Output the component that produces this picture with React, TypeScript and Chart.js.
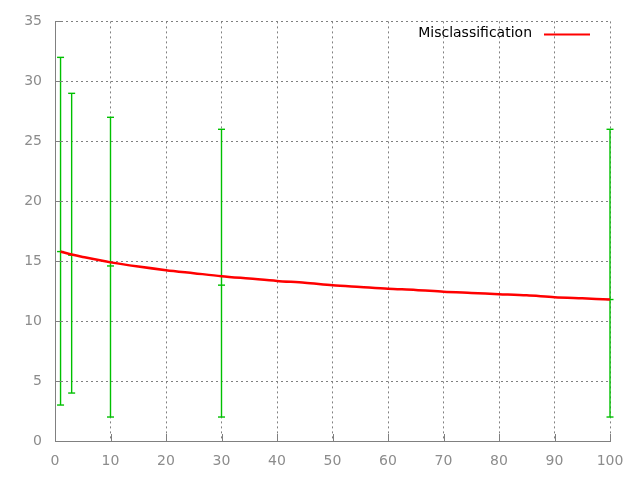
import React, { useEffect, useRef } from "react";
import { Chart, registerables } from "chart.js";

Chart.register(...registerables);

const lineX = [1, 3, 5, 10, 15, 20, 25, 30, 35, 40, 45, 50, 55, 60, 65, 70, 75, 80, 85, 90, 95, 100];
const lineY = [15.8, 15.55, 15.35, 14.9, 14.55, 14.25, 14.0, 13.75, 13.55, 13.35, 13.2, 13.0, 12.85, 12.7, 12.6, 12.45, 12.35, 12.25, 12.15, 12.0, 11.9, 11.8];

const errX = [1, 3, 10, 30, 100];
const errLow = [3, 4, 2, 2, 2];
const errMid = [15.8, 15.5, 14.6, 13.0, 11.8];
const errHigh = [32, 29, 27, 26, 26];

const seriesLabel = "Misclassification";
const FONT = "'DejaVu Sans', sans-serif";
const GRAY = "#808080";

const legendPlugin = {
  id: "gnuLegend",
  afterDraw(chart: any) {
    const ctx = chart.ctx;
    const area = chart.chartArea;
    ctx.save();
    ctx.font = `14px ${FONT}`;
    ctx.fillStyle = "#000000";
    ctx.textAlign = "right";
    ctx.textBaseline = "middle";
    const y = area.top + 12;
    ctx.fillText(seriesLabel, area.right - 78, y);
    ctx.strokeStyle = "#ff0000";
    ctx.lineWidth = 2;
    ctx.beginPath();
    ctx.moveTo(area.right - 66, y + 1);
    ctx.lineTo(area.right - 20, y + 1);
    ctx.stroke();
    ctx.restore();
  },
};

const tickPlugin = {
  id: "inwardTicks",
  afterDatasetsDraw(chart: any) {
    const ctx = chart.ctx;
    const area = chart.chartArea;
    const xs = chart.scales.x;
    const ys = chart.scales.y;
    ctx.save();
    ctx.strokeStyle = GRAY;
    ctx.lineWidth = 1;
    ctx.beginPath();
    ys.ticks.forEach((t: any) => {
      const py = Math.round(ys.getPixelForValue(t.value)) + 0.5;
      ctx.moveTo(area.left, py);
      ctx.lineTo(area.left + 7, py);
    });
    xs.ticks.forEach((t: any) => {
      const px = Math.round(xs.getPixelForValue(t.value)) + 0.5;
      ctx.moveTo(px, area.bottom);
      ctx.lineTo(px, area.bottom - 7);
    });
    ctx.stroke();
    ctx.restore();
  },
};

export default function App() {
  const ref = useRef<HTMLCanvasElement>(null);

  useEffect(() => {
    if (!ref.current) return;
    const errDatasets = errX.map((x, i) => ({
      label: "err" + i,
      data: [
        { x, y: errLow[i] },
        { x, y: errMid[i] },
        { x, y: errHigh[i] },
      ],
      borderColor: "#00c000",
      backgroundColor: "#00c000",
      borderWidth: 1.4,
      pointStyle: "line",
      pointRadius: 3.5,
      pointBorderWidth: 1.4,
      pointBorderColor: "#00c000",
      tension: 0,
      clip: false,
      order: 2,
    }));
    const chart = new Chart(ref.current, {
      type: "line",
      data: {
        datasets: [
          ...errDatasets,
          {
            label: seriesLabel,
            data: lineX.map((x, i) => ({ x, y: lineY[i] })),
            borderColor: "#ff0000",
            backgroundColor: "#ff0000",
            borderWidth: 2.5,
            pointRadius: 0,
            tension: 0.3,
            clip: false,
            order: 1,
          },
        ],
      } as any,
      options: {
        animation: false,
        responsive: false,
        maintainAspectRatio: false,
        layout: { padding: { left: 0, top: 20, right: 30, bottom: 0 } },
        plugins: {
          legend: { display: false },
          tooltip: { enabled: false },
        },
        scales: {
          x: {
            type: "linear",
            min: 0,
            max: 100,
            ticks: {
              stepSize: 10,
              color: "#8c8c8c",
              font: { family: FONT, size: 14 },
              padding: 12,
              maxRotation: 0,
            },
            grid: { color: GRAY, lineWidth: 1, drawTicks: false },
            border: { display: true, color: GRAY, width: 1, dash: [2, 3] },
            afterFit: (s: any) => {
              s.height = 39;
            },
          },
          y: {
            type: "linear",
            min: 0,
            max: 35,
            ticks: {
              stepSize: 5,
              color: "#8c8c8c",
              font: { family: FONT, size: 14 },
              padding: 13,
            },
            grid: { color: GRAY, lineWidth: 1, drawTicks: false },
            border: { display: true, color: GRAY, width: 1, dash: [2, 3] },
            afterFit: (s: any) => {
              s.width = 55;
            },
          },
        },
      } as any,
      plugins: [tickPlugin, legendPlugin],
    });
    return () => chart.destroy();
  }, []);

  return (
    <div style={{ position: "fixed", left: 0, top: 0, width: 640, height: 480, background: "#ffffff" }}>
      <canvas ref={ref} width={640} height={480} />
    </div>
  );
}
